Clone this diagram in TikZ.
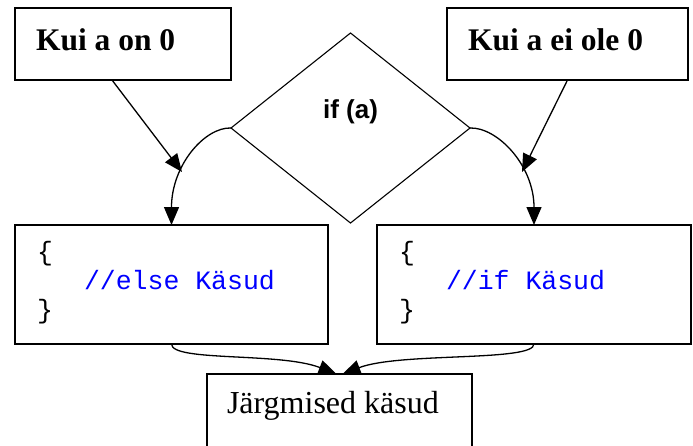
\documentclass[tikz,border=0pt]{standalone}
\usepackage{fontspec}
\setmainfont{Liberation Serif}
\newfontfamily\sansf{Liberation Sans}
\newfontfamily\monof{Liberation Mono}
\usetikzlibrary{shapes.geometric,arrows.meta}
\definecolor{codeblue}{RGB}{0,0,255}
\begin{document}
\begin{tikzpicture}[x=1pt,y=-1pt,
 box/.style={draw, line width=1.4pt, inner sep=0, outer sep=0, anchor=north west},
 txt/.style={inner sep=0, outer sep=0, anchor=base west},
 head/.style={txt, font=\bfseries\fontsize{31.5}{36}\selectfont},
 conn/.style={line width=1.3pt, -{Triangle[length=18pt,width=15pt]}},
 code/.style={txt, font=\monof\fontsize{26.5}{29}\selectfont},
]
\useasboundingbox (0,0) rectangle (693,445);
\clip (0,0) rectangle (693,445);
\fill[white] (0,0) rectangle (693,445);

% top boxes
\node[box, minimum width=216pt, minimum height=72pt] (b1) at (15,8) {};
\node[head] (t1) at (36,50) {Kui a on 0};
\node[box, minimum width=241pt, minimum height=72pt] (b2) at (447,8) {};
\node[head] (t2) at (468,50) {Kui a ei ole 0};

% diamond
\node[draw, diamond, minimum width=239pt, minimum height=190pt, inner sep=0, outer sep=0, line width=1.1pt] (dia) at (350.5,128) {};
\node[inner sep=0, font=\sansf\bfseries\fontsize{26}{30}\selectfont] (cond) at (350.5,112) {if (a)};

% code boxes
\node[box, minimum width=313pt, minimum height=119pt] (lbox) at (15,225) {};
\node[code] (lb1) at (37,260) {\{};
\node[code, text=codeblue] (lc) at (84,289) {//else Käsud};
\node[code] (lb2) at (37,318) {\}};

\node[box, minimum width=314pt, minimum height=119pt] (rbox) at (377,225) {};
\node[code] (rb1) at (399,260) {\{};
\node[code, text=codeblue] (rc) at (446,289) {//if Käsud};
\node[code] (rb2) at (399,318) {\}};

% bottom box
\node[box, minimum width=265pt, minimum height=90pt] (bot) at (207,374) {};
\node[txt, font=\fontsize{32}{36}\selectfont] (bt) at (227,413) {Järgmised käsud};

% connectors
\coordinate (m1) at (182,172);
\coordinate (m2) at (522,172);
\draw[conn] ([xshift=-11pt]b1.south) -- (m1);
\draw[conn] (b2.south) -- (m2);
\draw[conn] (dia.west) .. controls (205,127) and (171.5,165) .. (lbox.north);
\draw[conn] (dia.east) .. controls (497,127) and (534,165) .. (rbox.north);
\draw[conn] (lbox.south) .. controls (171.5,362) and (280,352) .. ([xshift=-3pt]bot.north);
\draw[conn] (rbox.south) .. controls (534,362) and (400,352) .. ([xshift=3pt]bot.north);
\end{tikzpicture}
\end{document}
